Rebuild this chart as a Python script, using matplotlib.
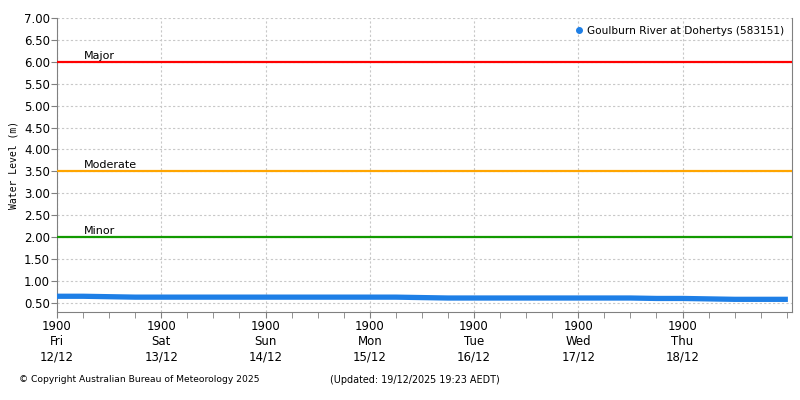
import matplotlib
matplotlib.use("Agg")
import matplotlib.pyplot as plt
import matplotlib.dates as mdates
import pandas as pd

# water level readings every 6 hours, from Fri 12/12 19:00, plus the latest one
start = "2025-12-12 19:00"
levels = [0.65, 0.65, 0.64, 0.63, 0.63, 0.63, 0.63, 0.63,
          0.63, 0.63, 0.63, 0.63, 0.63, 0.63, 0.62, 0.61,
          0.61, 0.61, 0.61, 0.61, 0.61, 0.61, 0.61, 0.60,
          0.60, 0.59, 0.58, 0.58, 0.58]
last_time = "2025-12-19 19:15"
last_level = 0.58

# flood class levels
class_names = ["Minor", "Moderate", "Major"]
class_levels = [2.0, 3.5, 6.0]
class_colors = ["#129a00", "#ffa500", "#ff0000"]

station = "Goulburn River at Dohertys (583151)"

times = list(pd.date_range(start, periods=len(levels), freq="6h")) + [pd.Timestamp(last_time)]
values = levels + [last_level]

plt.rcParams['font.family'] = ['DejaVu Sans']
fig = plt.figure(figsize=(8, 4), dpi=100, facecolor='white')
ax = fig.add_axes([0.07125, 0.221, 0.91875, 0.734])

t0 = pd.Timestamp(start)
t1 = t0 + pd.Timedelta(hours=7 * 24 + 1.2)
ax.set_xlim(t0, t1)
ax.set_ylim(0.3, 7.0)

for name, lvl, col in zip(class_names, class_levels, class_colors):
    ax.axhline(lvl, color=col, lw=1.6, zorder=3)
    ax.text(t0 + pd.Timedelta(hours=6.3), lvl + 0.03, name, fontsize=8,
            va='bottom', ha='left', zorder=4)

ax.plot(times, values, color='#1e7fe6', lw=3.8, solid_capstyle='butt', zorder=5)
ax.plot([], [], 'o', color='#1e7fe6', ms=4, label=station)
ax.legend(loc='upper right', frameon=False, fontsize=7.6, handlelength=0.8,
          handletextpad=0.4, borderaxespad=0.35)

ax.set_yticks([0.5 + 0.5 * i for i in range(14)])
ax.yaxis.set_major_formatter(plt.FormatStrFormatter('%.2f'))
major = list(pd.date_range(start, periods=7, freq="D"))
ax.set_xticks(major)
ax.xaxis.set_minor_locator(mdates.HourLocator(byhour=[1, 7, 13, 19]))
ax.xaxis.set_major_formatter(mdates.DateFormatter('%H%M\n%a\n%d/%m'))
ax.tick_params(axis='both', labelsize=8.5, color='#808080', length=4)
ax.tick_params(axis='x', which='minor', color='#808080', length=4)
ax.tick_params(axis='x', pad=2)
ax.tick_params(axis='y', pad=1)
for lab in ax.get_xticklabels():
    lab.set_linespacing(1.25)

ax.grid(True, which='major', color='#c8c8c8', ls=(0, (2, 2)), lw=0.8)
ax.spines['top'].set_visible(False)
for s in ['left', 'bottom', 'right']:
    ax.spines[s].set_color('#808080')

ax.set_ylabel('Water Level (m)', fontsize=7, family='DejaVu Sans Mono')
ax.yaxis.set_label_coords(-0.053, 0.5)

fig.text(0.024, 0.05, '© Copyright Australian Bureau of Meteorology 2025', fontsize=6.6,
         va='center')
fig.text(0.412, 0.05, '(Updated: 19/12/2025 19:23 AEDT)', fontsize=6.9, va='center')

fig.savefig('out.png', dpi=100)
